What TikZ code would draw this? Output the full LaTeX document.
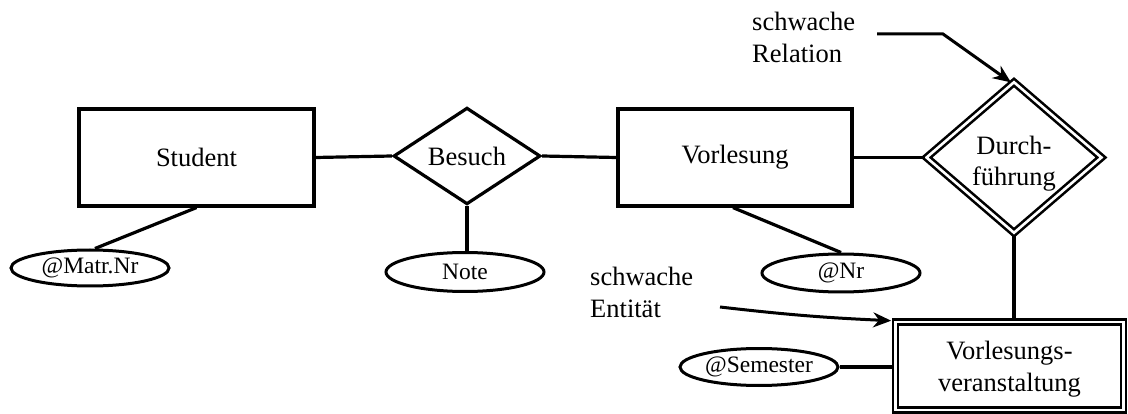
\documentclass[tikz,border=0pt]{standalone}
\usepackage{fontspec}
\setmainfont{Liberation Serif}
\usetikzlibrary{shapes.geometric,arrows.meta,calc}
\begin{document}
\begin{tikzpicture}[x=1pt,y=-1pt,
  every node/.style={font=\fontsize{26.5}{32}\selectfont},
  ent/.style={draw,line width=3.2pt,rectangle,inner sep=0pt},
  rel/.style={draw,line width=3.2pt,diamond,inner sep=0pt},
  attr/.style={draw,line width=3pt,ellipse,inner sep=0pt,minimum width=158pt,font=\fontsize{23.5}{28}\selectfont},
  weak/.style={draw,line width=2.6pt,double,double distance=2.6pt},
  conn/.style={line width=3.2pt},
  pointer/.style={line width=3pt,-{Stealth[length=18pt,width=15pt]}},
  note/.style={align=left,inner sep=0pt,anchor=west}]
\useasboundingbox (0,0) rectangle (1128,414);
% entities and relations
\node[ent,minimum width=235pt,minimum height=97pt] (student) at (196.5,157.5) {Student};
\node[rel,minimum width=147pt,minimum height=96pt] (besuch) at (467,156) {Besuch};
\node[ent,minimum width=234pt,minimum height=97pt] (vorl) at (735,157.5) {Vorlesung};
\node[rel,weak,minimum width=176pt,minimum height=122pt,align=center] (durch) at (1014,157.5) {\rule{0pt}{31pt}Durch-\\[-1pt]führung};
\node[ent,weak,minimum width=228pt,minimum height=88pt,align=center] (vv) at (1009.5,366) {\rule{0pt}{24pt}Vorlesungs-\\veranstaltung};
% attributes
\node[attr,minimum height=36pt] (matr) at (90,268) {@Matr.Nr};
\node[attr,minimum height=39pt] (note) at (465,272) {Note};
\node[attr,minimum height=38pt] (nr) at (841,273) {@Nr};
\node[attr,minimum height=37pt] (sem) at (759,367) {@Semester};
% connectors
\draw[conn] (student.east) -- (besuch.west);
\draw[conn] (besuch.east) -- (vorl.west);
\draw[conn] (vorl.east) -- (durch.west);
\draw[conn] (durch.south) -- (durch.south |- vv.north);
\draw[conn] (student.south) -- ([xshift=5pt]matr.north);
\draw[conn] (besuch.south) -- (besuch.south |- note.north);
\draw[conn] ([xshift=-2pt]vorl.south) -- (nr.north);
\draw[conn] (sem.east) -- (sem.east -| vv.west);
% annotations
\node[note] (lrel) at (752,37) {schwache\\Relation};
\coordinate (r1) at (877,34);
\coordinate (r2) at (943,34);
\draw[pointer] (r1) -- (r2) -- ([xshift=-3pt,yshift=-2pt]durch.north);
\node[note] (lent) at (590,292) {schwache\\Entität};
\coordinate (e1) at (720,307);
\draw[pointer] (e1) to[bend right=2] ([xshift=-3pt]vv.north west);
\end{tikzpicture}
\end{document}
